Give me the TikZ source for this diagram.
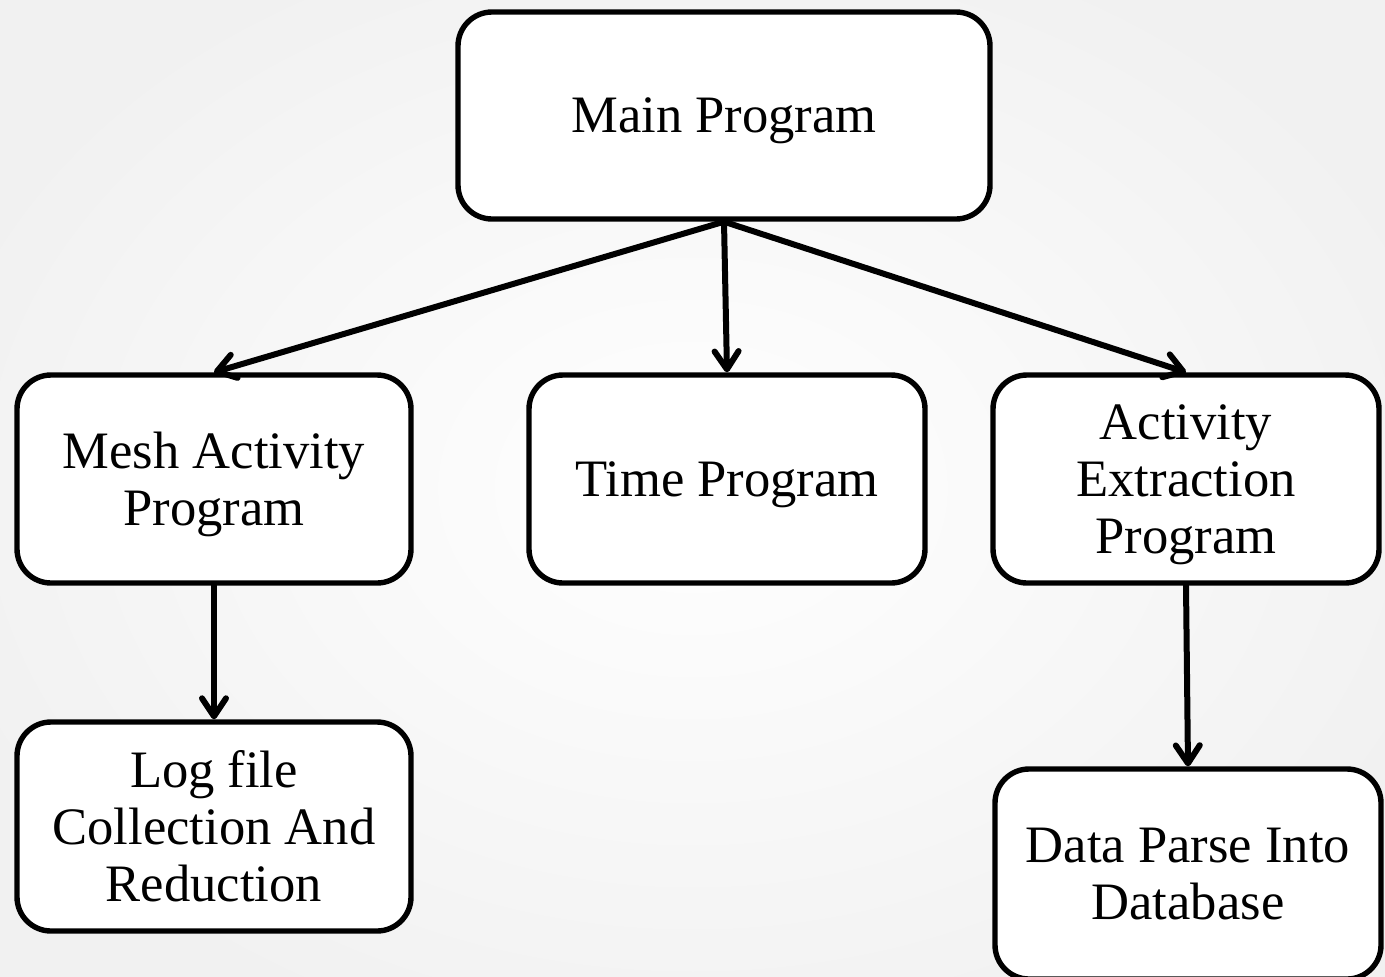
\documentclass[tikz,border=0pt]{standalone}
\usepackage{fontspec}
\setmainfont{Liberation Serif}
\usetikzlibrary{arrows.meta}
\definecolor{bgout}{HTML}{F1F1F1}
\newcommand{\nodesc}[1]{\raisebox{0pt}[\height][0pt]{#1}}
\tikzset{
  box/.style={draw=black, fill=white, line width=2.7pt, rounded corners=17pt,
    align=center, inner sep=0pt, font=\fontsize{26.3}{28.5}\selectfont},
  conn/.style={line width=3pt, line cap=round,
    -{Straight Barb[length=9pt,width=12pt,line cap=round,line join=round]}}
}
\begin{document}
\begin{tikzpicture}[x=0.5pt,y=-0.5pt]
\useasboundingbox (0,0) rectangle (1385,976);
\clip (0,0) rectangle (1385,976);
\shade[inner color=white, outer color=bgout] (-100,-100) rectangle (1485,1076);
\node[box, minimum width=266pt, minimum height=103.5pt] (main) at (724,115.5) {\nodesc{Main Program}};
\node[box, minimum width=197pt, minimum height=104pt] (mesh) at (214,479) {Mesh Activity\\\nodesc{Program}};
\node[box, minimum width=198pt, minimum height=104pt] (time) at (727,479) {\nodesc{Time Program}};
\node[box, minimum width=193pt, minimum height=104pt] (act) at (1186,479) {Activity\\Extraction\\\nodesc{Program}};
\node[box, minimum width=197pt, minimum height=104.5pt] (log) at (214,826.5) {Log file\\Collection And\\Reduction};
\node[box, minimum width=193pt, minimum height=105pt] (data) at (1188,874) {Data Parse Into\\Database};
\draw[conn] (main.south) -- (mesh.north);
\draw[conn] (main.south) -- (time.north);
\draw[conn] (main.south) -- (act.north);
\draw[conn] (mesh.south) -- (log.north);
\draw[conn] (act.south) -- (data.north);
\end{tikzpicture}
\end{document}
